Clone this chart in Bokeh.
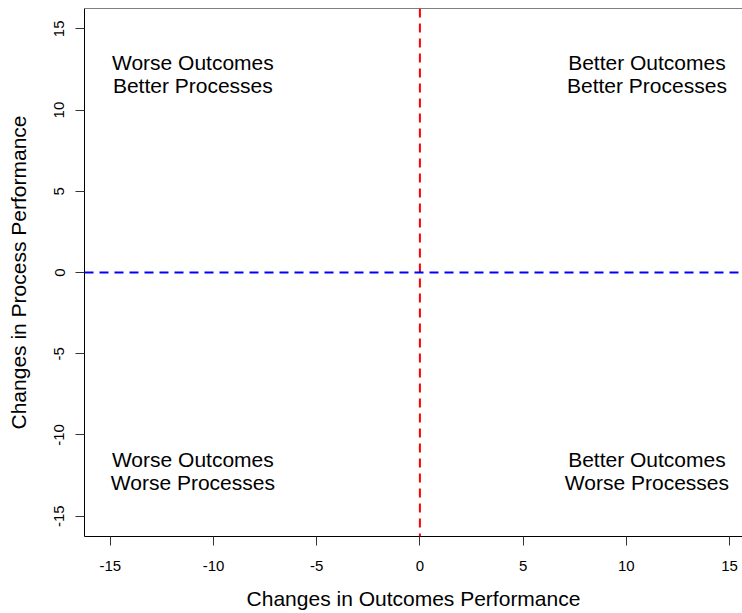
from bokeh.plotting import figure
from bokeh.models import Range1d, FixedTicker, Span, ColumnDataSource
from bokeh.core.properties import value
from bokeh.embed import file_html
from bokeh.resources import INLINE

# ---- data ----
x_ticks = [-15, -10, -5, 0, 5, 10, 15]
y_ticks = [-15, -10, -5, 0, 5, 10, 15]
x_tick_labels = ["-15", "-10", "-5", "0", "5", "10", "15"]
y_tick_labels = ["-15", "-10", "-5", "0", "5", "10", "15"]
quad_x = [-11, 11, -11, 11]
quad_y = [12.2, 12.2, -12.2, -12.2]
quad_text = ["Worse Outcomes\nBetter Processes",
             "Better Outcomes\nBetter Processes",
             "Worse Outcomes\nWorse Processes",
             "Better Outcomes\nWorse Processes"]
x_lim = (-16.25, 15.63)
y_lim = (-16.25, 16.25)
x_title = "Changes in Outcomes Performance"
y_title = "Changes in Process Performance"

FONT = "Liberation Sans"

p = figure(width=742, height=613, output_backend="svg", toolbar_location=None,
           x_range=Range1d(*x_lim), y_range=Range1d(*y_lim),
           min_border_left=84, min_border_right=0, min_border_top=8, min_border_bottom=77)
p.outline_line_color = None
p.grid.visible = False
p.background_fill_color = "white"
p.border_fill_color = "white"

for ax, ticks, labs in ((p.xaxis[0], x_ticks, x_tick_labels), (p.yaxis[0], y_ticks, y_tick_labels)):
    ax.ticker = FixedTicker(ticks=ticks)
    ax.major_label_overrides = {t: l for t, l in zip(ticks, labs)}
    ax.minor_tick_line_color = None
    ax.major_tick_in = 0
    ax.major_tick_out = 9
    ax.major_tick_line_color = "#333333"
    ax.axis_line_color = "black"
    ax.axis_line_width = 1
    ax.major_label_text_font = FONT
    ax.major_label_text_font_size = "15px"
    ax.major_label_text_color = "black"
    ax.axis_label_text_font = FONT
    ax.axis_label_text_font_size = "21px"
    ax.axis_label_text_font_style = "normal"
    ax.axis_label_text_color = "black"

p.xaxis.axis_label = x_title
p.yaxis.axis_label = y_title
p.xaxis.major_label_standoff = 15
p.xaxis.axis_label_standoff = 13
p.yaxis.major_label_standoff = 11
p.yaxis.major_label_orientation = "vertical"
p.yaxis.axis_label_standoff = 22

# top border line
p.add_layout(Span(location=y_lim[1], dimension="width", line_color="black", line_width=1))

# quadrant reference lines
p.add_layout(Span(location=0, dimension="height", line_color="#FF0000", line_width=2, line_dash="9 6"))
p.add_layout(Span(location=0, dimension="width", line_color="#0000FF", line_width=2, line_dash="9 6"))

src = ColumnDataSource(dict(x=quad_x, y=quad_y, t=quad_text))
p.text(x="x", y="y", text="t", source=src, text_align="center", text_baseline="middle",
       text_font=value(FONT), text_font_size="21px", text_color="black", text_line_height=1.0)

open("out.html", "w").write(file_html(p, INLINE))
